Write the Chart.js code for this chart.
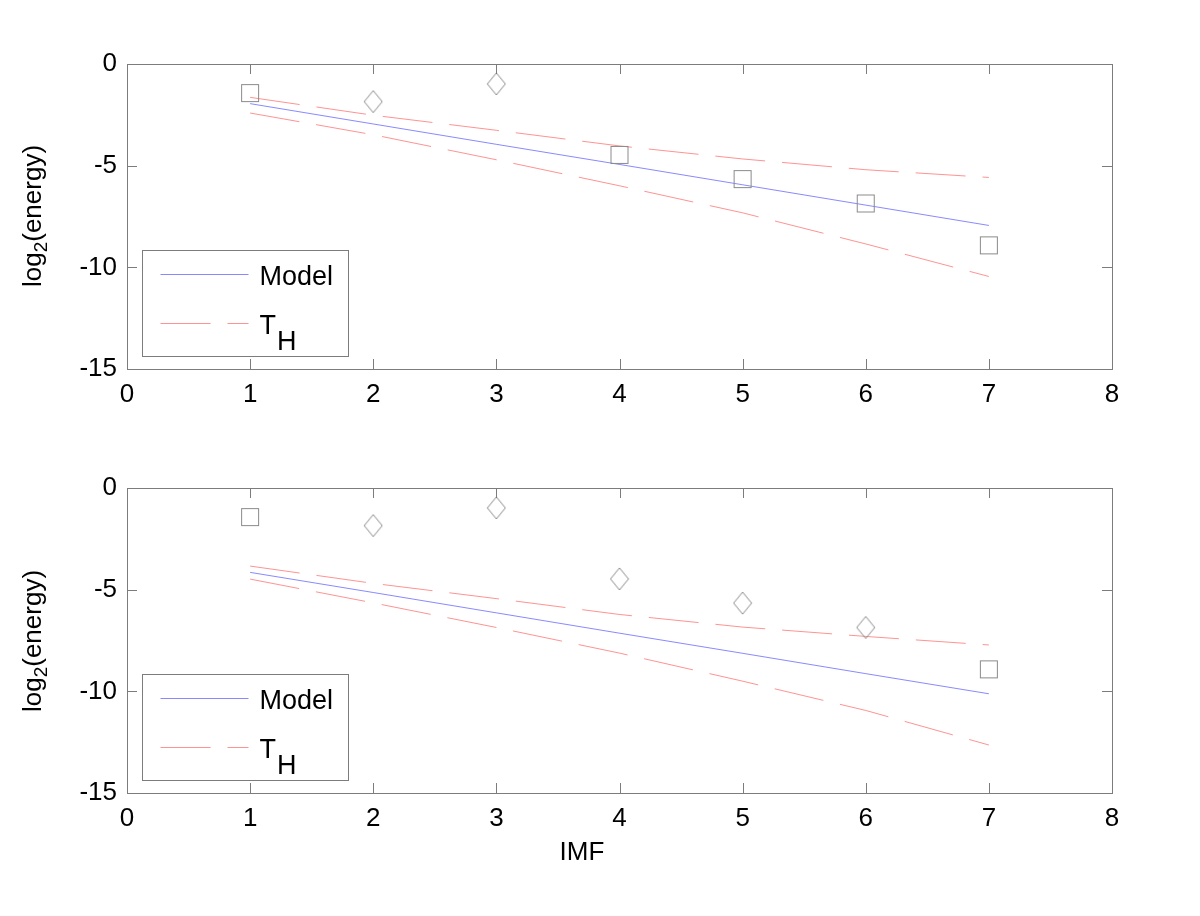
<!DOCTYPE html>
<html>
<head>
<meta charset="utf-8">
<title>log2(energy) per IMF</title>
<script src="https://cdn.jsdelivr.net/npm/chart.js@4.4.1/dist/chart.umd.min.js"></script>
<style>
    body { margin: 0; background: #fff; }
    #wrap {
        position: relative;
        width: 1200px;
        height: 916px;
        font-family: "Liberation Sans", Arial, sans-serif;
        color: #000;
    }
    #wrap canvas { position: absolute; left: 0; }
    #topChart { top: 0; }
    #bottomChart { top: 440px; }
    .ylabel {
        position: absolute;
        left: 32px;
        font-size: 26px;
        white-space: nowrap;
        transform: translate(-50%, -50%) rotate(-90deg);
    }
    .ylabel sub { font-size: 19px; vertical-align: -6px; line-height: 0; }
    #xlabel {
        position: absolute;
        left: 582px;
        top: 836px;
        font-size: 26px;
        line-height: 30px;
        transform: translateX(-50%);
    }
</style>
</head>
<body>
<div id="wrap">
    <canvas id="topChart" width="1200" height="440"></canvas>
    <canvas id="bottomChart" width="1200" height="440"></canvas>
    <div class="ylabel" style="top:216px">log<sub>2</sub>(energy)</div>
    <div class="ylabel" style="top:641px">log<sub>2</sub>(energy)</div>
    <div id="xlabel">IMF</div>
</div>

<script>
// ========================================
// DATA
// ========================================

const imf = [1, 2, 3, 4, 5, 6, 7];

// measured log2 energy per IMF (same signal in both panels)
const energy = [-1.43, -1.85, -0.98, -4.47, -5.66, -6.86, -8.92];

// marker shape per IMF: 's' = square, 'd' = diamond
const topShapes = ['s', 'd', 'd', 's', 's', 's', 's'];
const bottomShapes = ['s', 'd', 'd', 'd', 'd', 'd', 's'];

// top panel model + threshold band
const topModel = [-1.95, -2.95, -3.95, -4.94, -5.94, -6.94, -7.94];
const topUpper = [-1.64, -2.52, -3.26, -4.03, -4.67, -5.2, -5.58];
const topLower = [-2.41, -3.48, -4.71, -5.99, -7.32, -8.85, -10.45];

// bottom panel model + threshold band
const bottomModel = [-4.15, -5.14, -6.14, -7.14, -8.13, -9.13, -10.12];
const bottomUpper = [-3.84, -4.69, -5.44, -6.22, -6.84, -7.3, -7.72];
const bottomLower = [-4.48, -5.65, -6.86, -8.12, -9.5, -10.94, -12.64];

// axis ticks
const xTicks = [0, 1, 2, 3, 4, 5, 6, 7, 8];
const yTicks = [-15, -10, -5, 0];

// legend entries
const legendNames = ['Model', 'T'];
const legendSubs = ['', 'H'];

// ========================================
// STYLES
// ========================================

const FONT = '"Liberation Sans", Arial, sans-serif';
const axisColor = '#7c7c7c';
const markerColor = '#8a8a8a';
const modelColor = 'rgba(40, 40, 255, 0.55)';
const threshColor = 'rgba(255, 40, 40, 0.5)';
const threshDash = [50, 17];
const TICK_LEN = 10;

function makeSquare() {
    const c = document.createElement('canvas');
    c.width = 20; c.height = 20;
    const g = c.getContext('2d');
    g.strokeStyle = markerColor;
    g.lineWidth = 1;
    g.strokeRect(1.5, 1.5, 17, 17);
    return c;
}

function makeDiamond() {
    const c = document.createElement('canvas');
    c.width = 20; c.height = 24;
    const g = c.getContext('2d');
    g.strokeStyle = markerColor;
    g.lineWidth = 1;
    g.beginPath();
    g.moveTo(10, 1);
    g.lineTo(19, 12);
    g.lineTo(10, 23);
    g.lineTo(1, 12);
    g.closePath();
    g.stroke();
    return c;
}

const squareImg = makeSquare();
const diamondImg = makeDiamond();

function toPoints(values) {
    return imf.map((x, i) => ({ x: x, y: values[i] }));
}

// ========================================
// PLUGINS
// ========================================

// MATLAB style box with inward ticks on all four sides
const boxTicks = {
    id: 'boxTicks',
    afterDatasetsDraw(chart) {
        const ctx = chart.ctx;
        const a = chart.chartArea;
        const xs = chart.scales.x;
        const ys = chart.scales.y;
        ctx.save();
        ctx.strokeStyle = axisColor;
        ctx.lineWidth = 1;
        ctx.beginPath();
        xTicks.forEach(v => {
            const px = Math.round(xs.getPixelForValue(v)) + 0.5;
            ctx.moveTo(px, a.bottom);
            ctx.lineTo(px, a.bottom - TICK_LEN);
            ctx.moveTo(px, a.top);
            ctx.lineTo(px, a.top + TICK_LEN);
        });
        yTicks.forEach(v => {
            const py = Math.round(ys.getPixelForValue(v)) + 0.5;
            ctx.moveTo(a.left, py);
            ctx.lineTo(a.left + TICK_LEN, py);
            ctx.moveTo(a.right, py);
            ctx.lineTo(a.right - TICK_LEN, py);
        });
        ctx.stroke();
        ctx.strokeRect(Math.round(a.left) + 0.5, Math.round(a.top) + 0.5,
            Math.round(a.right - a.left), Math.round(a.bottom - a.top));
        ctx.restore();
    }
};

// legend box in the lower left corner, with subscript support
const boxLegend = {
    id: 'boxLegend',
    afterDraw(chart) {
        const ctx = chart.ctx;
        const a = chart.chartArea;
        const w = 206, h = 106;
        const left = Math.round(a.left + 15) + 0.5;
        const top = Math.round(a.bottom - 13 - h) + 0.5;
        ctx.save();
        ctx.fillStyle = '#fff';
        ctx.fillRect(left, top, w, h);
        ctx.strokeStyle = axisColor;
        ctx.lineWidth = 1;
        ctx.strokeRect(left, top, w, h);

        const rows = [top + 24, top + 73];
        const lineSets = [chart.data.datasets[1], chart.data.datasets[2]];
        legendNames.forEach((name, i) => {
            const ds = lineSets[i];
            ctx.strokeStyle = ds.borderColor;
            ctx.setLineDash(ds.borderDash || []);
            ctx.beginPath();
            ctx.moveTo(left + 18, rows[i]);
            ctx.lineTo(left + 106, rows[i]);
            ctx.stroke();
            ctx.setLineDash([]);

            ctx.fillStyle = '#000';
            ctx.font = '27px ' + FONT;
            ctx.textBaseline = 'alphabetic';
            const tx = left + 117;
            ctx.fillText(name, tx, rows[i] + 10);
            if (legendSubs[i]) {
                const nw = ctx.measureText(name).width;
                ctx.fillText(legendSubs[i], tx + nw + 1, rows[i] + 26);
            }
        });
        ctx.restore();
    }
};

// ========================================
// CHART FACTORY
// ========================================

function buildPanel(canvasId, shapes, model, upper, lower, padTop, xHeight) {
    const ctx = document.getElementById(canvasId);
    return new Chart(ctx, {
        type: 'line',
        data: {
            datasets: [
                {
                    label: 'energy',
                    data: toPoints(energy),
                    showLine: false,
                    pointStyle: shapes.map(s => (s === 'd' ? diamondImg : squareImg)),
                    pointRadius: 10,
                    borderColor: markerColor,
                    backgroundColor: 'transparent'
                },
                {
                    label: 'Model',
                    data: toPoints(model),
                    borderColor: modelColor,
                    borderWidth: 1,
                    pointRadius: 0,
                    tension: 0,
                    fill: false
                },
                {
                    label: 'T_H upper',
                    data: toPoints(upper),
                    borderColor: threshColor,
                    borderWidth: 1,
                    borderDash: threshDash,
                    pointRadius: 0,
                    tension: 0,
                    fill: false
                },
                {
                    label: 'T_H lower',
                    data: toPoints(lower),
                    borderColor: threshColor,
                    borderWidth: 1,
                    borderDash: threshDash,
                    pointRadius: 0,
                    tension: 0,
                    fill: false
                }
            ]
        },
        options: {
            responsive: false,
            animation: false,
            devicePixelRatio: 1,
            layout: {
                padding: { top: padTop, right: 88, left: 0, bottom: 0 }
            },
            plugins: {
                legend: { display: false },
                tooltip: { enabled: false }
            },
            scales: {
                x: {
                    type: 'linear',
                    min: 0,
                    max: 8,
                    afterBuildTicks: function(scale) {
                        scale.ticks = xTicks.map(v => ({ value: v }));
                    },
                    afterFit: function(scale) {
                        scale.height = xHeight;
                    },
                    grid: { display: false, drawTicks: false },
                    border: { display: false },
                    ticks: {
                        color: '#000',
                        padding: 10,
                        maxRotation: 0,
                        font: { family: FONT, size: 26 }
                    }
                },
                y: {
                    type: 'linear',
                    min: -15,
                    max: 0,
                    afterBuildTicks: function(scale) {
                        scale.ticks = yTicks.map(v => ({ value: v }));
                    },
                    afterFit: function(scale) {
                        scale.width = 127;
                    },
                    grid: { display: false, drawTicks: false },
                    border: { display: false },
                    ticks: {
                        color: '#000',
                        padding: 10,
                        font: { family: FONT, size: 26 },
                        callback: function(value) {
                            return String(value);
                        }
                    }
                }
            }
        },
        plugins: [boxTicks, boxLegend]
    });
}

buildPanel('topChart', topShapes, topModel, topUpper, topLower, 64, 71);
buildPanel('bottomChart', bottomShapes, bottomModel, bottomUpper, bottomLower, 48, 87);
</script>
</body>
</html>
